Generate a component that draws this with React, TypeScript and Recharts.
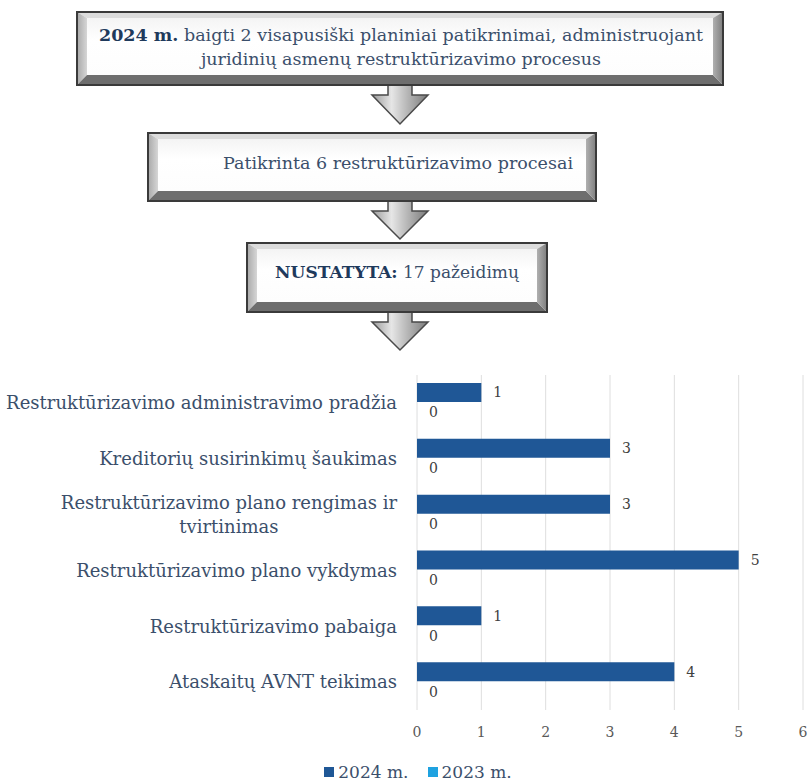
import React from 'react';
import { BarChart, Bar, XAxis, YAxis, CartesianGrid, Legend, LabelList } from 'recharts';

const categories = [
  'Restruktūrizavimo administravimo pradžia',
  'Kreditorių susirinkimų šaukimas',
  'Restruktūrizavimo plano rengimas ir tvirtinimas',
  'Restruktūrizavimo plano vykdymas',
  'Restruktūrizavimo pabaiga',
  'Ataskaitų AVNT teikimas',
];
const values2024 = [1, 3, 3, 5, 1, 4];
const values2023 = [0, 0, 0, 0, 0, 0];
const xTicks = [0, 1, 2, 3, 4, 5, 6];

const data = categories.map((name, i) => ({
  name,
  y2024: values2024[i],
  y2023: values2023[i],
}));

const FONT = '"DejaVu Serif", serif';
const TEXT = '#3b4f6b';
const DARK = '#1f3a5c';
const C2024 = '#1f5796';
const C2023 = '#1fa2e0';

function BevelBox({ x, y, w, h }: { x: number; y: number; w: number; h: number }) {
  const bt = 6;
  const bs = 10;
  const bb = 10;
  return (
    <g>
      <rect x={x} y={y} width={w} height={h} fill="#fff" />
      <polygon points={`${x},${y} ${x + w},${y} ${x + w - bs},${y + bt} ${x + bs},${y + bt}`} fill="#dcdcdc" />
      <polygon points={`${x},${y} ${x + bs},${y + bt} ${x + bs},${y + h - bb} ${x},${y + h}`} fill="url(#bevLeft)" />
      <polygon points={`${x},${y + h} ${x + bs},${y + h - bb} ${x + w - bs},${y + h - bb} ${x + w},${y + h}`} fill="#6e6e6e" />
      <polygon points={`${x + w},${y} ${x + w - bs},${y + bt} ${x + w - bs},${y + h - bb} ${x + w},${y + h}`} fill="url(#bevRight)" />
      <rect x={x + bs} y={y + bt} width={w - 2 * bs} height={h - bt - bb} fill="url(#face)" />
      <rect x={x} y={y} width={w} height={h} fill="none" stroke="#3a3a3a" strokeWidth={2} />
    </g>
  );
}

function Arrow({ cx, y0, yb, tip }: { cx: number; y0: number; yb: number; tip: number }) {
  const s = 12;
  const hw = 28;
  const pts = [
    [cx - s, y0], [cx + s, y0], [cx + s, yb], [cx + hw, yb],
    [cx, tip], [cx - hw, yb], [cx - s, yb],
  ].map((p) => p.join(',')).join(' ');
  return <polygon points={pts} fill="url(#arrowGrad)" stroke="#4a4a4a" strokeWidth={1.5} strokeLinejoin="miter" />;
}

function Flow() {
  const txt = { fontFamily: FONT, fontSize: 17.5, fill: TEXT } as const;
  return (
    <svg width={809} height={360} style={{ position: 'absolute', left: 0, top: 0 }}>
      <defs>
        <linearGradient id="bevLeft" x1="0" x2="1" y1="0" y2="0">
          <stop offset="0" stopColor="#a8a8a8" />
          <stop offset="1" stopColor="#d6d6d6" />
        </linearGradient>
        <linearGradient id="bevRight" x1="0" x2="1" y1="0" y2="0">
          <stop offset="0" stopColor="#b0b0b0" />
          <stop offset="1" stopColor="#7e7e7e" />
        </linearGradient>
        <linearGradient id="face" x1="0" x2="0" y1="0" y2="1">
          <stop offset="0" stopColor="#f4f4f4" />
          <stop offset="0.4" stopColor="#ffffff" />
          <stop offset="1" stopColor="#fdfdfd" />
        </linearGradient>
        <linearGradient id="arrowGrad" x1="0" x2="1" y1="0" y2="0">
          <stop offset="0" stopColor="#9a9a9a" />
          <stop offset="0.35" stopColor="#e6e6e6" />
          <stop offset="0.55" stopColor="#c4c4c4" />
          <stop offset="1" stopColor="#7a7a7a" />
        </linearGradient>
      </defs>

      <Arrow cx={400} y0={84} yb={95} tip={124} />
      <Arrow cx={400} y0={200} yb={211} tip={239} />
      <Arrow cx={400} y0={311} yb={322} tip={350} />

      <BevelBox x={77} y={12} w={646} h={73} />
      <text x={401} y={41} textAnchor="middle" {...txt}>
        <tspan fontWeight="bold" fill={DARK}>2024 m.</tspan> baigti 2 visapusiški planiniai patikrinimai, administruojant
      </text>
      <text x={401} y={65} textAnchor="middle" {...txt}>
        juridinių asmenų restruktūrizavimo  procesus
      </text>

      <BevelBox x={148} y={133} w={448} h={68} />
      <text x={398} y={169} textAnchor="middle" {...txt}>Patikrinta 6 restruktūrizavimo procesai</text>

      <BevelBox x={247} y={243} w={300} h={69} />
      <text x={397} y={278} textAnchor="middle" fontFamily={FONT} fontSize={17} fill={TEXT}>
        <tspan fontWeight="bold" fill={DARK}>NUSTATYTA:</tspan> 17 pažeidimų
      </text>
    </svg>
  );
}

const TICK_FONT_SIZE = 18;
let measureCtx: CanvasRenderingContext2D | null = null;
function measure(s: string) {
  if (!measureCtx) {
    measureCtx = document.createElement('canvas').getContext('2d');
  }
  if (!measureCtx) return s.length * 9.7;
  measureCtx.font = `${TICK_FONT_SIZE}px "DejaVu Serif"`;
  return measureCtx.measureText(s).width;
}

function wrap(text: string, maxW: number) {
  const words = text.split(' ');
  const lines: string[] = [];
  let cur = '';
  for (const w of words) {
    const next = cur ? `${cur} ${w}` : w;
    if (cur && measure(next) > maxW) {
      lines.push(cur);
      cur = w;
    } else {
      cur = next;
    }
  }
  if (cur) lines.push(cur);
  return lines;
}

function CategoryTick({ x, y, payload }: any) {
  const lines = wrap(String(payload.value), 396);
  const lh = 24;
  const widest = Math.max(...lines.map(measure));
  const single = lines.length === 1;
  const tx = single ? x : x - widest / 2;
  return (
    <g>
      {lines.map((l, i) => (
        <text
          key={i}
          x={tx}
          y={y + (i - (lines.length - 1) / 2) * lh}
          dy="0.35em"
          textAnchor={single ? 'end' : 'middle'}
          fontFamily={FONT}
          fontSize={TICK_FONT_SIZE}
          fill={TEXT}
        >
          {l}
        </text>
      ))}
    </g>
  );
}

function LegendContent({ payload }: any) {
  return (
    <div style={{ display: 'flex', justifyContent: 'center', paddingLeft: 27, fontFamily: FONT, fontSize: 17, color: TEXT, lineHeight: '18px' }}>
      {(payload || []).map((p: any, i: number) => (
        <div key={i} style={{ display: 'flex', alignItems: 'center', marginRight: i === 0 ? 19 : 0 }}>
          <span style={{ display: 'inline-block', width: 10, height: 10, background: p.color, marginRight: 4 }} />
          <span>{p.value}</span>
        </div>
      ))}
    </div>
  );
}

export default function App() {
  return (
    <div style={{ position: 'absolute', left: 0, top: 0, width: 809, height: 781, background: '#fff' }}>
      <Flow />
      <div style={{ position: 'absolute', left: 0, top: 355 }}>
        <BarChart
          width={809}
          height={426}
          data={data}
          layout="vertical"
          margin={{ top: 20, right: 6, bottom: 0, left: 0 }}
          barSize={19}
          barGap={1}
        >
          <CartesianGrid horizontal={false} stroke="#dedede" />
          <XAxis
            type="number"
            domain={[0, 6]}
            ticks={xTicks}
            axisLine={false}
            tickLine={false}
            tickSize={0}
            tickMargin={17}
            height={53}
            tick={{ fill: '#595959', fontSize: 14, fontFamily: FONT }}
          />
          <YAxis
            type="category"
            dataKey="name"
            width={417}
            axisLine={false}
            tickLine={false}
            tickSize={0}
            tickMargin={20}
            tick={<CategoryTick />}
          />
          <Legend
            verticalAlign="bottom"
            height={18}
            wrapperStyle={{ top: 408, left: 0, width: 809, height: 18 }}
            itemSorter={(item: any) => (item.dataKey === 'y2024' ? 0 : 1)}
            content={<LegendContent />}
          />
          <Bar dataKey="y2024" name="2024 m." fill={C2024} isAnimationActive={false}>
            <LabelList dataKey="y2024" position="right" offset={12} fill="#404040" fontSize={14} fontFamily={FONT} />
          </Bar>
          <Bar dataKey="y2023" name="2023 m." fill={C2023} minPointSize={0.01} isAnimationActive={false}>
            <LabelList dataKey="y2023" position="right" offset={12} fill="#404040" fontSize={14} fontFamily={FONT} />
          </Bar>
        </BarChart>
      </div>
    </div>
  );
}
